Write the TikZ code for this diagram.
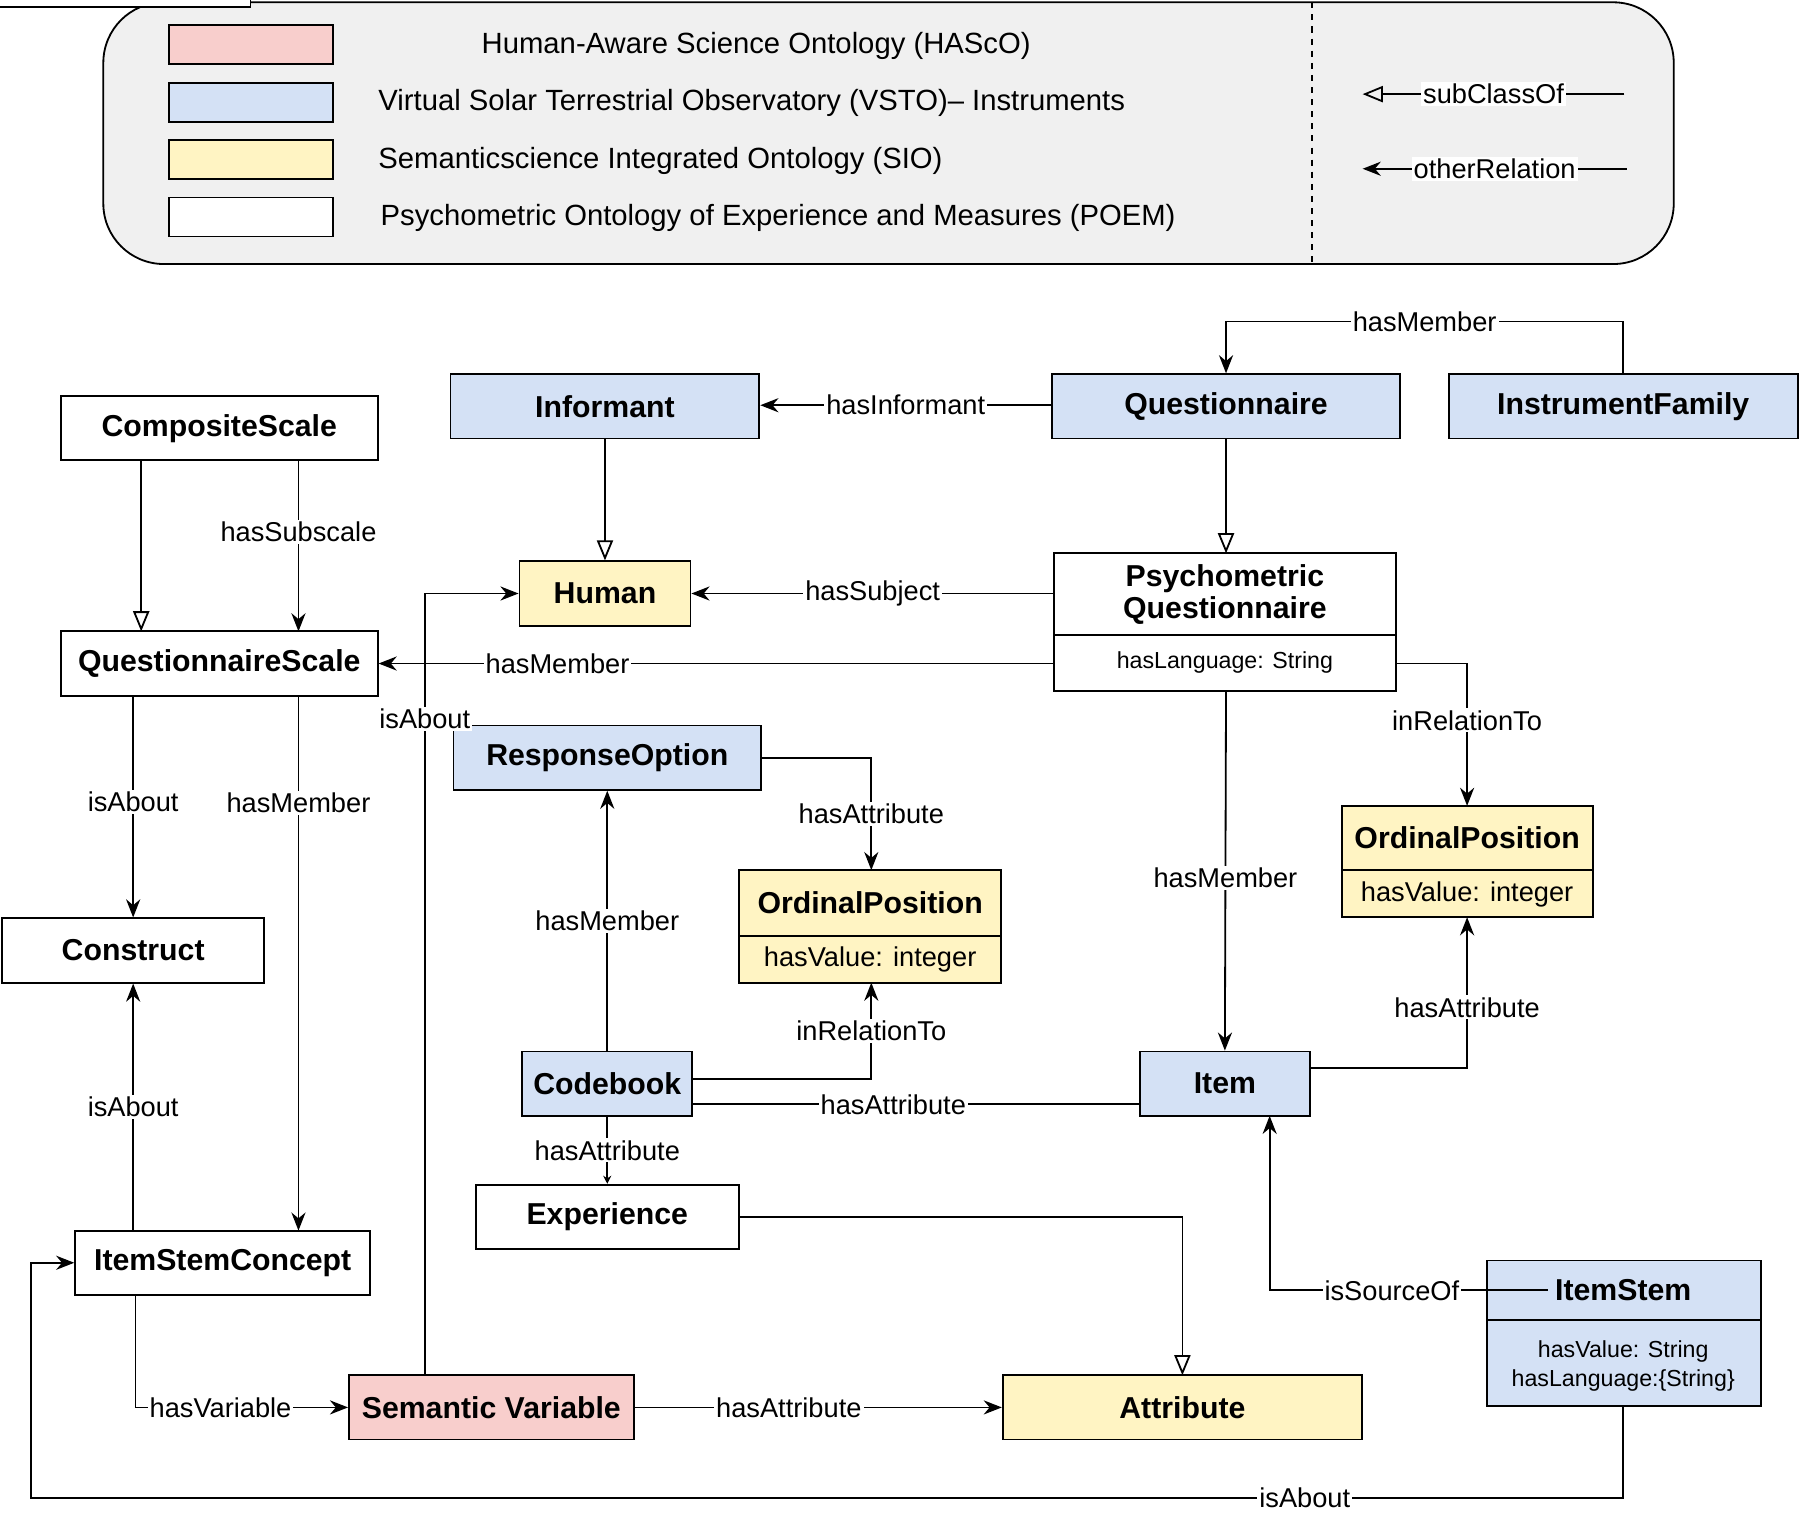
\documentclass[tikz,border=0pt]{standalone}
\usepackage{fontspec}
\setmainfont{Liberation Sans}
\usetikzlibrary{arrows.meta}
\definecolor{hascopink}{HTML}{F8CECC}
\definecolor{vstoblue}{HTML}{D4E1F5}
\definecolor{sioyellow}{HTML}{FFF4C3}
\definecolor{legendgray}{HTML}{F0F0F0}
\begin{document}
\begin{tikzpicture}[x=0.02cm,y=-0.02cm,line width=0.9pt,
  cls/.style={draw,font=\fontsize{15}{18}\selectfont\bfseries},
  attr/.style={draw,font=\fontsize{12}{15}\selectfont},
  rel/.style={-{Stealth[length=9pt,width=7pt]}},
  sub/.style={-{Triangle[open,length=10pt,width=8pt]}},
  lbl/.style={fill=white,inner sep=1pt,font=\fontsize{13.5}{16}\selectfont},
]
  \useasboundingbox (0,0) rectangle (1568,1325);
  % legend
  \draw[fill=legendgray,rounded corners=30] (90,2) rectangle (1458,230);
  \draw[dashed] (1143,2) -- (1143,230);
  \draw[fill=hascopink] (147,22) rectangle (290,56);
  \draw[fill=vstoblue] (147,72) rectangle (290,106);
  \draw[fill=sioyellow] (147,122) rectangle (290,156);
  \draw[fill=white] (147,172) rectangle (290,206);
  \begin{scope}[every node/.style={font=\fontsize{14.5}{17}\selectfont,anchor=west}]
    \node (lghasco) at (413,40) {Human-Aware Science Ontology (HAScO)};
    \node (lgvsto) at (323,90) {Virtual Solar Terrestrial Observatory (VSTO)-- Instruments};
    \node (lgsio) at (323,140) {Semanticscience Integrated Ontology (SIO)};
    \node (lgpoem) at (325,190) {Psychometric Ontology of Experience and Measures (POEM)};
  \end{scope}
  \coordinate (subA) at (1415,82);  \coordinate (subB) at (1187,82);
  \coordinate (relA) at (1417,147); \coordinate (relB) at (1187,147);
  \draw[sub] (subA) -- node[lbl]{subClassOf} (subB);
  \draw[rel] (relA) -- node[lbl]{otherRelation} (relB);

  % classes
  \node[cls,fill=white,minimum width=276\pgflinewidth] at (0,0) {}; % placeholder-free
  \newcommand{\clsbox}[5]{\node[cls,fill=#5,inner sep=0,minimum width=#3*0.02cm,minimum height=56*0.02cm] (#1) at #2 {#4};}
  \clsbox{composite}{(191,373)}{276}{CompositeScale}{white}
  \clsbox{qscale}{(191,578)}{276}{QuestionnaireScale}{white}
  \clsbox{construct}{(116,828)}{228}{Construct}{white}
  \clsbox{stemconcept}{(194,1100)}{257}{ItemStemConcept}{white}
  \clsbox{semvar}{(428,1226)}{248}{Semantic Variable}{hascopink}
  \clsbox{attribute}{(1030,1226)}{313}{Attribute}{sioyellow}
  \clsbox{informant}{(527,354)}{269}{Informant}{vstoblue}
  \clsbox{human}{(527,517)}{149}{Human}{sioyellow}
  \clsbox{questionnaire}{(1068,354)}{303}{Questionnaire}{vstoblue}
  \clsbox{family}{(1414,354)}{304}{InstrumentFamily}{vstoblue}
  \clsbox{response}{(529,660)}{268}{ResponseOption}{vstoblue}
  \clsbox{codebook}{(529,944)}{148}{Codebook}{vstoblue}
  \clsbox{item}{(1067,944)}{148}{Item}{vstoblue}
  \clsbox{experience}{(529,1060)}{229}{Experience}{white}
  % compartment classes
  \draw[fill=white] (918,482) rectangle (1216,602);
  \draw (918,553) -- (1216,553);
  \node[font=\fontsize{15}{18}\selectfont\bfseries,align=center] (psych) at (1067,518) {Psychometric\\[-2pt]Questionnaire};
  \node[font=\fontsize{11.5}{14}\selectfont] (psychattr) at (1067,577) {hasLanguage: String};
  \draw[fill=sioyellow] (644,758) rectangle (872,856);
  \draw (644,815) -- (872,815);
  \node[font=\fontsize{15}{18}\selectfont\bfseries] (ordmid) at (758,786) {OrdinalPosition};
  \node[font=\fontsize{13.5}{16}\selectfont] (ordmidattr) at (758,836) {hasValue: integer};
  \draw[fill=sioyellow] (1169,702) rectangle (1388,799);
  \draw (1169,758) -- (1388,758);
  \node[font=\fontsize{15}{18}\selectfont\bfseries] (ordright) at (1278,730) {OrdinalPosition};
  \node[font=\fontsize{13.5}{16}\selectfont] (ordrightattr) at (1278,779) {hasValue: integer};
  \draw[fill=vstoblue] (1295,1098) rectangle (1534,1225);
  \draw (1295,1150) -- (1534,1150);
  \node[font=\fontsize{15}{18}\selectfont\bfseries] (itemstem) at (1414,1124) {ItemStem};
  \node[font=\fontsize{11.5}{14}\selectfont,align=center] (itemstemattr) at (1414,1190) {hasValue: String\\hasLanguage:\{String\}};

  % connectors
  \draw[rel] (family.north) |- (1068,280) node[lbl,pos=0.75]{hasMember} -- (questionnaire.north);
  \draw[rel] (questionnaire.west |- 0,353) -- node[lbl,pos=0.5]{hasInformant} (informant.east |- 0,353);
  \draw[sub] (informant) -- (human);
  \draw[sub] (questionnaire) -- (1068,482);
  \draw[rel] (918,517) -- node[lbl]{hasSubject} (human.east);
  \draw[rel] (918,578) -- node[lbl,pos=0.735]{hasMember} (qscale.east);
  \draw[rel] (1216,578) -| (ordright.north |- 0,702) node[lbl,pos=0.7]{inRelationTo};
  \draw[rel] (1068,602) -- node[lbl,pos=0.52]{hasMember} (item.north);
  \draw[rel] (item.east |- 0,930) -| (1278,799) node[lbl,pos=0.7]{hasAttribute};
  \draw[rel] (itemstem.west) -| (1106,972) node[lbl,pos=0.28]{isSourceOf};
  \draw[rel] (1414,1225) |- (27,1305) node[lbl,pos=0.6]{isAbout} |- (stemconcept.west);
  \draw[sub] (123,401) -- (123,550);
  \draw[rel] (260,401) -- node[lbl,pos=0.42]{hasSubscale} (260,550);
  \draw[rel] (116,606) -- node[lbl,pos=0.48]{isAbout} (construct.north);
  \draw[rel] (260,606) -- node[lbl,pos=0.2]{hasMember} (260,1072);
  \draw[rel] (116,1072) -- node[lbl]{isAbout} (construct.south);
  \draw[rel] (118,1129) |- node[lbl,pos=0.7]{hasVariable} (semvar.west);
  \draw[rel] (semvar.east) -- node[lbl,pos=0.42]{hasAttribute} (attribute.west);
  \draw[rel] (370,1198) |- node[lbl,pos=0.42]{isAbout} (human.west);
  \draw[rel] (codebook.north) -- node[lbl]{hasMember} (response.south);
  \draw[rel] (response.east) -| (759,758) node[lbl,pos=0.75]{hasAttribute};
  \draw[rel] (603,940) -| (759,856) node[lbl,pos=0.75]{inRelationTo};
  \draw (603,962) -- node[lbl,pos=0.45]{hasAttribute} (item.west |- 0,962);
  \draw[-{Stealth[length=4pt,width=4pt]}] (codebook.south) -- node[lbl]{hasAttribute} (experience.north);
  \draw[sub] (experience.east) -| (1030,1198);
\end{tikzpicture}
\end{document}
